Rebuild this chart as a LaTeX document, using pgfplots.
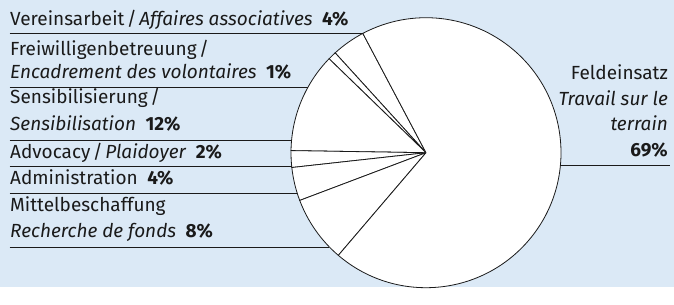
\documentclass[border=0pt]{standalone}
\usepackage{pgfplots}
\usepackage{pgfplotstable}
\pgfplotsset{compat=1.18}
\usepackage{fontspec}
\setmainfont{Fira Sans}
\definecolor{bg}{RGB}{219,233,246}
\definecolor{ink}{RGB}{26,26,26}
\newcommand{\sep}{\hspace{2.5bp}/\hspace{2.5bp}}

% share of each activity in percent, start = cumulated share before it
\pgfplotstableread{
name pct start
Vereinsarbeit 4 0
Freiwilligen 1 4
Sensibilisierung 12 5
Advocacy 2 17
Administration 4 19
Mittelbeschaffung 8 23
Feldeinsatz 69 31
}\piedata

\begin{document}
\begin{tikzpicture}[
  lab/.style={anchor=base west, inner sep=0pt, text=ink, font=\fontsize{19bp}{23bp}\selectfont},
  rlab/.style={anchor=base east, inner sep=0pt, text=ink, font=\fontsize{19bp}{23bp}\selectfont}]
\begin{axis}[
  x=1bp, y=1bp, xmin=0, xmax=674, ymin=0, ymax=287,
  hide axis, scale only axis, clip=false,
]
\fill[bg] (axis cs:0,0) rectangle (axis cs:674,287);
\pgfplotsextra{
  \foreach \i in {0,...,6}{
    \pgfplotstablegetelem{\i}{pct}\of\piedata \let\p\pgfplotsretval
    \pgfplotstablegetelem{\i}{start}\of\piedata \let\s\pgfplotsretval
    \pgfmathsetmacro\a{117.9+3.6*\s}
    \pgfmathsetmacro\b{\a+3.6*\p}
    \filldraw[fill=white, draw=ink, line width=0.8bp]
      (axis cs:426,134.3) -- ++(\a:135bp) arc[start angle=\a, end angle=\b, radius=135bp] -- cycle;
  }
}
% divider lines
\draw[ink, line width=0.8bp] (axis cs:9.5,253.7) -- (axis cs:362.7,253.7);
\draw[ink, line width=0.8bp] (axis cs:9.5,200) -- (axis cs:308,200);
\draw[ink, line width=0.8bp] (axis cs:9.5,146.5) -- (axis cs:291.6,146.5);
\draw[ink, line width=0.8bp] (axis cs:9.5,120.5) -- (axis cs:291.7,120.5);
\draw[ink, line width=0.8bp] (axis cs:9.5,94) -- (axis cs:297.2,94);
\draw[ink, line width=0.8bp] (axis cs:9.5,40) -- (axis cs:329.4,40);
\draw[ink, line width=0.8bp] (axis cs:561,121.3) -- (axis cs:670,121.3);
% labels
\node[lab] at (axis cs:10,262) {Vereinsarbeit\sep\textit{Affaires associatives}\enspace\textbf{4\%}};
\node[lab] at (axis cs:10,232) {Freiwilligenbetreuung\hspace{2.5bp}/};
\node[lab] at (axis cs:10,208.7) {\textit{Encadrement des volontaires}\enspace\textbf{1\%}};
\node[lab] at (axis cs:10,183.7) {Sensibilisierung\hspace{2.5bp}/};
\node[lab] at (axis cs:10,157) {\textit{Sensibilisation}\enspace\textbf{12\%}};
\node[lab] at (axis cs:10,128.7) {Advocacy\sep\textit{Plaidoyer}\enspace\textbf{2\%}};
\node[lab] at (axis cs:10,102.7) {Administration\enspace\textbf{4\%}};
\node[lab] at (axis cs:10,76) {Mittelbeschaffung};
\node[lab] at (axis cs:10,49.3) {\textit{Recherche de fonds}\enspace\textbf{8\%}};
\node[rlab] at (axis cs:668,208) {Feldeinsatz};
\node[rlab] at (axis cs:668,182) {\textit{Travail sur le}};
\node[rlab] at (axis cs:668,157) {\textit{terrain}};
\node[rlab] at (axis cs:668,130.3) {\textbf{69\%}};
\end{axis}
\end{tikzpicture}
\end{document}
